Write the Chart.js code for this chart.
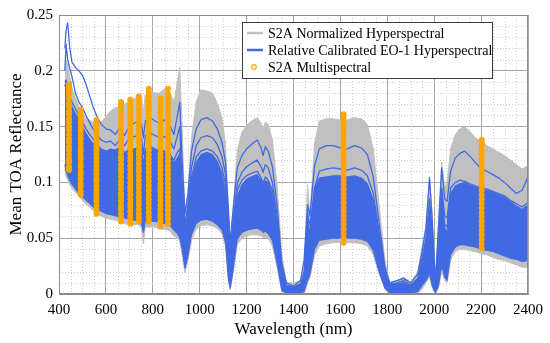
<!DOCTYPE html>
<html>
<head>
<meta charset="utf-8">
<script src="https://cdn.jsdelivr.net/npm/chart.js@4"></script>
<style>
  html, body { margin: 0; padding: 0; background: #fff; }
  #wrap { width: 550px; height: 343px; }
</style>
</head>
<body>
<div id="wrap"><canvas id="toaChart" width="550" height="343"></canvas></div>
<script>
// Wavelengths (nm) for the hyperspectral curves
const wavelengths = [425,430,437,445,455,470,485,500,515,530,545,560,580,600,620,640,660,680,700,720,740,752,760,768,790,810,830,850,870,890,905,915,925,937,950,965,985,1005,1030,1055,1075,1095,1110,1122,1130,1140,1160,1180,1200,1220,1245,1262,1270,1280,1292,1310,1330,1350,1370,1400,1430,1445,1460,1470,1490,1510,1540,1570,1600,1630,1660,1690,1715,1740,1765,1790,1810,1840,1870,1900,1930,1950,1965,1980,1992,2005,2018,2032,2045,2055,2070,2090,2110,2130,2150,2175,2200,2225,2250,2275,2300,2325,2350,2375,2400];

// S2A normalized hyperspectral: upper and lower envelope
const grayUpper = [.200,.210,.205,.195,.185,.176,.168,.162,.158,.156,.154,.153,.154,.159,.164,.167,.168,.170,.173,.175,.177,.177,.163,.179,.182,.180,.180,.184,.182,.172,.190,.203,.150,.070,.090,.140,.172,.183,.182,.180,.171,.158,.135,.075,.040,.070,.128,.145,.151,.155,.158,.153,.147,.154,.152,.138,.098,.035,.010,.010,.012,.020,.098,.070,.135,.155,.157,.157,.156,.156,.158,.157,.152,.130,.080,.030,.010,.012,.015,.010,.020,.045,.060,.105,.070,.010,.060,.118,.095,.100,.130,.143,.148,.150,.146,.140,.137,.133,.130,.127,.124,.120,.116,.112,.115];
const grayLower = [.112,.106,.102,.098,.095,.091,.088,.084,.081,.078,.075,.072,.070,.068,.067,.066,.065,.063,.062,.062,.062,.059,.045,.060,.060,.060,.058,.058,.057,.052,.050,.048,.035,.019,.030,.048,.058,.061,.062,.061,.059,.054,.043,.012,.004,.015,.044,.050,.052,.053,.053,.052,.050,.051,.050,.043,.024,.002,0,0,0,0,.010,.015,.035,.043,.045,.046,.046,.046,.046,.045,.043,.035,.018,.004,0,0,0,0,0,.005,.010,.015,.005,0,.005,.020,.012,.010,.030,.038,.040,.040,.039,.038,.036,.035,.033,.031,.030,.028,.026,.024,.024];

// Relative calibrated EO-1 hyperspectral: dense bulk envelope
const blueUpper = [.190,.192,.185,.175,.168,.162,.157,.150,.144,.139,.135,.132,.129,.128,.130,.129,.132,.127,.130,.130,.131,.129,.114,.130,.131,.129,.128,.128,.125,.118,.122,.126,.090,.052,.070,.100,.118,.125,.127,.125,.119,.108,.092,.056,.030,.050,.088,.098,.103,.105,.107,.102,.097,.102,.100,.089,.064,.022,.007,.006,.009,.014,.075,.050,.095,.104,.105,.106,.106,.105,.106,.104,.099,.083,.052,.018,.008,.009,.010,.007,.013,.030,.045,.072,.045,.006,.040,.085,.060,.055,.090,.097,.099,.100,.098,.096,.094,.093,.091,.089,.087,.083,.079,.076,.080];
const blueLower = [.116,.110,.106,.102,.098,.094,.090,.087,.084,.081,.078,.076,.074,.072,.071,.070,.069,.068,.067,.066,.066,.063,.055,.065,.065,.065,.064,.063,.062,.057,.054,.050,.040,.023,.034,.053,.063,.066,.067,.065,.062,.057,.046,.014,.005,.018,.049,.055,.057,.058,.059,.057,.055,.056,.054,.048,.027,.003,.001,0,.001,.002,.012,.017,.040,.048,.049,.050,.050,.050,.050,.049,.047,.039,.020,.005,.001,.001,.001,.001,.002,.008,.012,.018,.007,.001,.007,.025,.015,.012,.035,.042,.044,.044,.043,.042,.040,.039,.038,.036,.034,.032,.031,.029,.030];

// Individual brighter EO-1 curves
const blueCurveA = [.220,.236,.243,.222,.208,.203,.200,.196,.188,.178,.168,.160,.152,.148,.147,.143,.149,.142,.151,.153,.155,.152,.140,.155,.158,.155,.153,.156,.152,.143,.160,.172,.120,.072,.090,.128,.148,.156,.158,.155,.148,.136,.118,.078,.045,.070,.113,.124,.130,.134,.138,.131,.124,.132,.128,.114,.080,.028,.010,.007,.012,.030,.080,.070,.115,.130,.133,.133,.131,.130,.133,.131,.125,.105,.064,.024,.010,.012,.014,.010,.018,.040,.060,.104,.065,.010,.060,.113,.085,.083,.110,.122,.126,.128,.124,.118,.112,.110,.107,.104,.100,.095,.090,.093,.105];
const blueCurveB = [.200,.224,.210,.203,.195,.180,.172,.167,.160,.154,.148,.143,.138,.136,.137,.133,.139,.133,.140,.141,.142,.139,.125,.142,.144,.142,.140,.141,.138,.130,.142,.150,.100,.062,.080,.113,.133,.140,.142,.140,.134,.123,.107,.068,.040,.060,.099,.109,.114,.117,.120,.114,.109,.116,.113,.100,.070,.024,.008,.006,.009,.020,.070,.062,.095,.110,.112,.113,.112,.111,.113,.111,.106,.090,.056,.020,.009,.010,.012,.008,.014,.034,.050,.085,.055,.008,.050,.095,.070,.068,.095,.100,.102,.101,.099,.097,.095,.094,.092,.090,.088,.084,.081,.078,.082];
const blueCurveC = [.186,.190,.182,.178,.172,.166,.160,.154,.148,.143,.139,.135,.130,.128,.128,.126,.129,.124,.128,.130,.131,.129,.115,.130,.132,.130,.128,.128,.126,.120,.127,.130,.095,.056,.075,.104,.123,.128,.130,.128,.123,.113,.098,.062,.035,.055,.093,.102,.106,.108,.110,.104,.099,.105,.102,.093,.064,.020,.006,.005,.007,.015,.060,.055,.090,.102,.104,.105,.104,.104,.105,.103,.098,.084,.052,.018,.008,.009,.010,.007,.012,.030,.045,.075,.050,.006,.045,.088,.062,.060,.090,.095,.097,.097,.095,.093,.091,.090,.088,.086,.084,.080,.077,.074,.078];

// S2A multispectral bands (nm) and their reflectances
const s2aBands = [442.7, 492.4, 559.8, 664.6, 704.1, 740.5, 782.8, 832.8, 864.7, 1613.7, 2202.4];
const s2aValues = [
  [0.111,0.114,0.118,0.121,0.125,0.129,0.132,0.136,0.139,0.143,0.147,0.150,0.154,0.157,0.161,0.164,0.168,0.171,0.175,0.178,0.181,0.184,0.186,0.188],
  [0.089,0.092,0.096,0.099,0.103,0.107,0.110,0.114,0.117,0.121,0.124,0.128,0.131,0.135,0.139,0.142,0.146,0.149,0.153,0.156,0.159,0.162,0.165],
  [0.072,0.075,0.079,0.083,0.086,0.090,0.093,0.097,0.101,0.104,0.108,0.111,0.115,0.118,0.122,0.126,0.129,0.133,0.137,0.140,0.144,0.147,0.151,0.154,0.156],
  [0.065,0.068,0.072,0.076,0.079,0.083,0.087,0.090,0.094,0.098,0.101,0.105,0.109,0.112,0.116,0.120,0.123,0.127,0.131,0.134,0.138,0.142,0.145,0.149,0.153,0.156,0.160,0.164,0.167,0.170,0.172],
  [0.063,0.067,0.070,0.074,0.078,0.081,0.085,0.089,0.093,0.096,0.100,0.104,0.107,0.111,0.115,0.119,0.122,0.126,0.130,0.133,0.137,0.141,0.145,0.148,0.152,0.156,0.159,0.163,0.167,0.170,0.174],
  [0.065,0.068,0.072,0.076,0.080,0.083,0.087,0.091,0.095,0.098,0.102,0.106,0.110,0.113,0.117,0.121,0.125,0.128,0.132,0.136,0.140,0.143,0.147,0.151,0.155,0.158,0.162,0.166,0.170,0.173,0.177],
  [0.065,0.069,0.073,0.077,0.081,0.085,0.089,0.093,0.097,0.101,0.105,0.109,0.113,0.117,0.121,0.125,0.129,0.133,0.137,0.141,0.145,0.149,0.153,0.157,0.161,0.165,0.169,0.173,0.177,0.181,0.184],
  [0.061,0.065,0.069,0.072,0.076,0.080,0.084,0.088,0.092,0.095,0.099,0.103,0.107,0.111,0.115,0.118,0.122,0.126,0.130,0.134,0.138,0.141,0.145,0.149,0.153,0.157,0.161,0.164,0.168,0.172,0.175],
  [0.063,0.067,0.071,0.075,0.079,0.083,0.087,0.091,0.095,0.099,0.103,0.107,0.111,0.115,0.119,0.123,0.127,0.131,0.135,0.139,0.143,0.147,0.151,0.155,0.159,0.163,0.167,0.171,0.175,0.179,0.184],
  [0.046,0.050,0.054,0.058,0.062,0.066,0.070,0.074,0.078,0.082,0.086,0.090,0.094,0.098,0.102,0.106,0.110,0.114,0.118,0.122,0.126,0.130,0.134,0.138,0.142,0.146,0.150,0.154,0.158,0.161],
  [0.041,0.045,0.049,0.053,0.057,0.061,0.065,0.069,0.073,0.077,0.081,0.085,0.089,0.093,0.097,0.101,0.105,0.109,0.113,0.117,0.121,0.125,0.129,0.133,0.136,0.138]
];

const legendLabels = ["S2A Normalized Hyperspectral", "Relative Calibrated EO-1 Hyperspectral", "S2A Multispectral"];
const xTitle = "Wavelength (nm)";
const yTitle = "Mean TOA Reflectance";

const GRAY = "rgb(192,192,192)";
const BLUE = "rgb(65,105,225)";
const ORANGE = "rgb(255,165,0)";
const SERIF = "'Liberation Serif', 'Times New Roman', serif";

const toPoints = ys => wavelengths.map((w, i) => ({ x: w, y: ys[i] }));

// Dotted minor grid + box frame
const minorGrid = {
  id: "minorGrid",
  beforeDatasetsDraw(chart) {
    const { ctx, chartArea: a, scales: { x, y } } = chart;
    ctx.save();
    ctx.strokeStyle = "rgb(205,205,205)";
    ctx.lineWidth = 1;
    ctx.setLineDash([1, 2]);
    for (let w = 450; w < 2400; w += 50) {
      if (w % 200 === 0) continue;
      const px = Math.round(x.getPixelForValue(w)) + 0.5;
      ctx.beginPath(); ctx.moveTo(px, a.top); ctx.lineTo(px, a.bottom); ctx.stroke();
    }
    for (let k = 1; k < 25; k++) {
      if (k % 5 === 0) continue;
      const py = Math.round(y.getPixelForValue(k / 100)) + 0.5;
      ctx.beginPath(); ctx.moveTo(a.left, py); ctx.lineTo(a.right, py); ctx.stroke();
    }
    ctx.restore();
  },
  afterDatasetsDraw(chart) {
    const { ctx, chartArea: a } = chart;
    ctx.save();
    ctx.strokeStyle = "rgb(140,140,140)";
    ctx.lineWidth = 1;
    ctx.strokeRect(a.left + 0.5, a.top + 0.5, a.right - a.left - 1, a.bottom - a.top - 1);
    ctx.restore();
  }
};

// Legend box inside the plot, top right
const boxLegend = {
  id: "boxLegend",
  afterDraw(chart) {
    const ctx = chart.ctx;
    const bx = 242, by = 22, bw = 250, bh = 56;
    ctx.save();
    ctx.fillStyle = "#fff";
    ctx.fillRect(bx, by, bw, bh);
    ctx.strokeStyle = "rgb(60,60,60)";
    ctx.lineWidth = 1;
    ctx.strokeRect(bx + 0.5, by + 0.5, bw, bh);
    const rows = [33, 50, 67];
    ctx.lineWidth = 2.5;
    ctx.strokeStyle = GRAY;
    ctx.beginPath(); ctx.moveTo(247, rows[0]); ctx.lineTo(263, rows[0]); ctx.stroke();
    ctx.strokeStyle = BLUE;
    ctx.beginPath(); ctx.moveTo(247, rows[1]); ctx.lineTo(263, rows[1]); ctx.stroke();
    ctx.strokeStyle = ORANGE;
    ctx.lineWidth = 1.2;
    ctx.beginPath(); ctx.arc(254, rows[2], 2.3, 0, Math.PI * 2); ctx.stroke();
    ctx.fillStyle = "#000";
    ctx.font = "14px " + SERIF;
    ctx.textBaseline = "middle";
    legendLabels.forEach((t, i) => ctx.fillText(t, 268, rows[i] + 1));
    ctx.restore();
  }
};

// Render chart
function renderChart() {
  const ctx = document.getElementById("toaChart").getContext("2d");
  const orangePoints = s2aBands.flatMap((b, i) => s2aValues[i].map(v => ({ x: b, y: v })));

  const lineDefaults = { pointRadius: 0, tension: 0, borderJoinStyle: "round" };

  new Chart(ctx, {
    type: "line",
    data: {
      datasets: [
        { label: legendLabels[0], data: toPoints(grayUpper), borderColor: GRAY, backgroundColor: GRAY, borderWidth: 1, fill: "+1", order: 6, ...lineDefaults },
        { label: "grayLower", data: toPoints(grayLower), borderColor: GRAY, borderWidth: 1, fill: false, order: 6, ...lineDefaults },
        { label: legendLabels[1], data: toPoints(blueUpper), borderColor: BLUE, backgroundColor: BLUE, borderWidth: 1, fill: "+1", order: 5, ...lineDefaults },
        { label: "blueLower", data: toPoints(blueLower), borderColor: BLUE, borderWidth: 1, fill: false, order: 5, ...lineDefaults },
        { label: "curveA", data: toPoints(blueCurveA), borderColor: BLUE, borderWidth: 1.3, fill: false, order: 4, ...lineDefaults },
        { label: "curveB", data: toPoints(blueCurveB), borderColor: BLUE, borderWidth: 1.3, fill: false, order: 3, ...lineDefaults },
        { label: "curveC", data: toPoints(blueCurveC), borderColor: BLUE, borderWidth: 1.3, fill: false, order: 2, ...lineDefaults },
        { label: legendLabels[2], data: orangePoints, showLine: false, pointRadius: 2.4, pointBorderWidth: 1.2,
          pointBorderColor: ORANGE, pointBackgroundColor: ORANGE, borderColor: ORANGE, order: 0 }
      ]
    },
    options: {
      responsive: false,
      animation: false,
      devicePixelRatio: 1,
      layout: { padding: { top: 12, right: 21, left: 0, bottom: 0 } },
      plugins: { legend: { display: false }, tooltip: { enabled: false } },
      scales: {
        x: {
          type: "linear", min: 400, max: 2400,
          ticks: { stepSize: 200, padding: 7, color: "#000", font: { family: SERIF, size: 15 },
            callback: v => String(v) },
          grid: { color: "rgb(165,165,165)", drawTicks: false },
          border: { color: "rgb(140,140,140)" },
          title: { display: true, text: xTitle, color: "#000", font: { family: SERIF, size: 17 }, padding: { top: 0, bottom: 3 } },
          afterFit: s => { s.height = 49; }
        },
        y: {
          min: 0, max: 0.25,
          ticks: { stepSize: 0.05, padding: 6, color: "#000", font: { family: SERIF, size: 15 },
            callback: v => String(Number(v.toFixed(2))) },
          grid: { color: "rgb(165,165,165)", drawTicks: false },
          border: { color: "rgb(140,140,140)" },
          title: { display: true, text: yTitle, color: "#000", font: { family: SERIF, size: 17 }, padding: { top: 6, bottom: 0 } },
          afterFit: s => { s.width = 59; }
        }
      }
    },
    plugins: [minorGrid, boxLegend]
  });
}

// Init
renderChart();
</script>
</body>
</html>
